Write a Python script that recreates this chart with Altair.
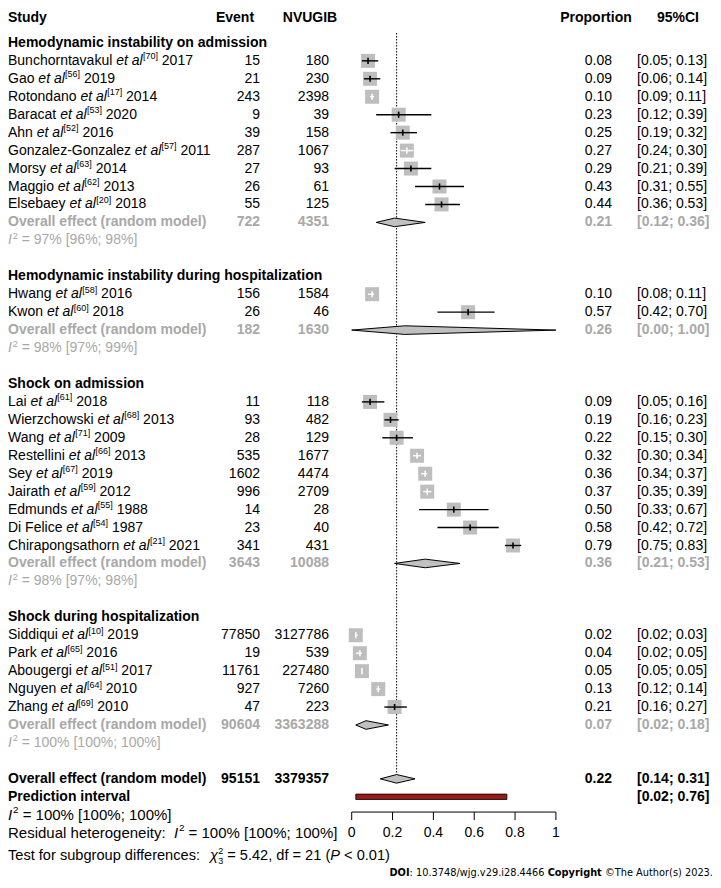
import altair as alt
import pandas as pd

# ---------------- data ----------------
group_titles = ["Hemodynamic instability on admission",
                "Hemodynamic instability during hospitalization",
                "Shock on admission",
                "Shock during hospitalization"]
study_group = [0] * 9 + [1] * 2 + [2] * 9 + [3] * 5
study_names = ["Bunchorntavakul", "Gao", "Rotondano", "Baracat", "Ahn", "Gonzalez-Gonzalez",
               "Morsy", "Maggio", "Elsebaey",
               "Hwang", "Kwon",
               "Lai", "Wierzchowski", "Wang", "Restellini", "Sey", "Jairath", "Edmunds",
               "Di Felice", "Chirapongsathorn",
               "Siddiqui", "Park", "Abougergi", "Nguyen", "Zhang"]
study_refs = ["70", "56", "17", "53", "52", "57", "63", "62", "20",
              "58", "60",
              "61", "68", "71", "66", "67", "59", "55", "54", "21",
              "10", "65", "51", "64", "69"]
study_years = ["2017", "2019", "2014", "2020", "2016", "2011", "2014", "2013", "2018",
               "2016", "2018",
               "2018", "2013", "2009", "2013", "2019", "2012", "1988", "1987", "2021",
               "2019", "2016", "2017", "2010", "2010"]
events = [15, 21, 243, 9, 39, 287, 27, 26, 55,
          156, 26,
          11, 93, 28, 535, 1602, 996, 14, 23, 341,
          77850, 19, 11761, 927, 47]
totals = [180, 230, 2398, 39, 158, 1067, 93, 61, 125,
          1584, 46,
          118, 482, 129, 1677, 4474, 2709, 28, 40, 431,
          3127786, 539, 227480, 7260, 223]
props = [0.08, 0.09, 0.10, 0.23, 0.25, 0.27, 0.29, 0.43, 0.44,
         0.10, 0.57,
         0.09, 0.19, 0.22, 0.32, 0.36, 0.37, 0.50, 0.58, 0.79,
         0.02, 0.04, 0.05, 0.13, 0.21]
ci_lo = [0.05, 0.06, 0.09, 0.12, 0.19, 0.24, 0.21, 0.31, 0.36,
         0.08, 0.42,
         0.05, 0.16, 0.15, 0.30, 0.34, 0.35, 0.33, 0.42, 0.75,
         0.02, 0.02, 0.05, 0.12, 0.16]
ci_hi = [0.13, 0.14, 0.11, 0.39, 0.32, 0.30, 0.39, 0.55, 0.53,
         0.11, 0.70,
         0.16, 0.23, 0.30, 0.34, 0.37, 0.39, 0.67, 0.72, 0.83,
         0.03, 0.05, 0.05, 0.14, 0.27]

sum_event = [722, 182, 3643, 90604]
sum_total = [4351, 1630, 10088, 3363288]
sum_prop = [0.21, 0.26, 0.36, 0.07]
sum_lo = [0.12, 0.00, 0.21, 0.02]
sum_hi = [0.36, 1.00, 0.53, 0.18]
sum_i2 = ["97% [96%; 98%]", "98% [97%; 99%]", "98% [97%; 98%]", "100% [100%; 100%]"]

overall_event = 95151
overall_total = 3379357
overall_prop = 0.22
overall_lo = 0.14
overall_hi = 0.31
pred_lo = 0.02
pred_hi = 0.76
overall_i2 = "100% [100%; 100%]"
resid_i2 = "100% [100%; 100%]"
test_chi = "5.42"
test_df = "21"
test_p = "0.01"

axis_ticks = [0, 0.2, 0.4, 0.6, 0.8, 1]
axis_labels = ["0", "0.2", "0.4", "0.6", "0.8", "1"]

# ---------------- layout / style ----------------
FONT = "Liberation Sans"
DVFONT = "DejaVu Sans"
GRAY = "#A8A8A8"
SQ = "#BEBEBE"
DIA = "#C0C0C0"
PRED = "#9A1A1A"

W, H = 705, 870
P0, PS = 343.7, 204.2          # pixel of proportion 0 and pixels per unit
Y0, DY = -1.0, 17.95           # pixel of row 0 and pixels per row

EV_R, NV_R = 252, 321
EV_HC, NV_HC = 227, 302
PR_R, PR_HC = 604, 588
CI_L, CI_HC = 629, 670
DOI_R = 705

XS = alt.Scale(domain=[0, 1], range=[P0, P0 + PS])
YS = alt.Scale(domain=[0, 1], range=[Y0, Y0 + DY])

AR = {' ': 278, '!': 278, '(': 333, ')': 333, ',': 278, '-': 333, '.': 278, '/': 278,
      ':': 278, ';': 278, '<': 584, '=': 584, '[': 278, ']': 278, '%': 889,
      'A': 667, 'B': 667, 'C': 722, 'D': 722, 'E': 667, 'F': 611, 'G': 778, 'H': 722,
      'I': 278, 'J': 500, 'K': 667, 'L': 556, 'M': 833, 'N': 722, 'O': 778, 'P': 667,
      'Q': 778, 'R': 722, 'S': 667, 'T': 611, 'U': 722, 'V': 667, 'W': 944, 'X': 667,
      'Y': 667, 'Z': 611,
      'a': 556, 'b': 556, 'c': 500, 'd': 556, 'e': 556, 'f': 278, 'g': 556, 'h': 556,
      'i': 222, 'j': 222, 'k': 500, 'l': 222, 'm': 833, 'n': 556, 'o': 556, 'p': 556,
      'q': 556, 'r': 333, 's': 500, 't': 278, 'u': 556, 'v': 500, 'w': 722, 'x': 500,
      'y': 500, 'z': 500, 'χ': 500}
DV = {' ': 318, '.': 318, ',': 318, ':': 337, '/': 337, '(': 390, ')': 390, '©': 1000,
      'A': 684, 'T': 611, 'C': 698, 'D': 770, 'O': 787, 'I': 295,
      'a': 613, 'e': 615, 'g': 635, 'h': 634, 'i': 278, 'j': 278, 'o': 612, 'p': 635,
      'r': 411, 's': 521, 't': 392, 'u': 634, 'v': 592, 'w': 818, 'y': 592}
DVB = {'D': 830, 'O': 850, 'I': 372, 'C': 734, 'o': 687, 'p': 716, 'y': 652, 'r': 493,
       'i': 343, 'g': 716, 'h': 712, 't': 478}


def table_for(kind):
    return DVB if kind == "DVB" else (DV if kind == "DV" else AR)


def tw(s, size=14, table=AR):
    dflt = 556 if table is AR else 636
    return sum(table.get(c, dflt) for c in s) * size / 1000.0


runs = []


def add(row, px, text, kind, color="black", size=14):
    # SVG drops leading/trailing blanks, so turn leading blanks into an x offset
    lead = len(text) - len(text.lstrip(" "))
    if lead and kind not in ("R", "RB", "C", "CB"):
        px += tw(" " * lead, size, table_for(kind))
    runs.append(dict(row=row, xp=(px - P0) / PS, text=text.strip(" "), kind=kind,
                     color=color, size=size))


# rows
study_rows, heading_rows, sum_rows, i2_rows = [], [], [], []
r = 2
for g in range(len(group_titles)):
    heading_rows.append(r)
    r += 1
    for sg in study_group:
        if sg == g:
            study_rows.append(r)
            r += 1
    sum_rows.append(r)
    i2_rows.append(r + 1)
    r += 3
ROW_HEADER = 0.6
ROW_OVERALL = r
ROW_PRED = r + 1
ROW_I2 = r + 2
ROW_RESID = r + 3
ROW_TEST = r + 4.3
ROW_DOI = r + 5.25
ROW_AXIS = r + 1.85

# header
add(ROW_HEADER, 0, "Study", "LB")
add(ROW_HEADER, EV_HC, "Event", "CB")
add(ROW_HEADER, NV_HC, "NVUGIB", "CB")
add(ROW_HEADER, PR_HC, "Proportion", "CB")
add(ROW_HEADER, CI_HC, "95%CI", "CB")

for g, t in enumerate(group_titles):
    add(heading_rows[g], 0, t, "LB")

for i, rw in enumerate(study_rows):
    x1 = tw(study_names[i] + " ")
    add(rw, 0, study_names[i], "L")
    add(rw, x1, "et al", "LI")
    x2 = x1 + tw("et al") + 0.3
    sup = "[" + study_refs[i] + "]"
    add(rw, x2, sup, "SUP", size=9)
    add(rw, x2 + tw(sup, 9) + tw(" "), study_years[i], "L")
    add(rw, EV_R, str(events[i]), "R")
    add(rw, NV_R, str(totals[i]), "R")
    add(rw, PR_R, f"{props[i]:.2f}", "R")
    add(rw, CI_L, f"[{ci_lo[i]:.2f}; {ci_hi[i]:.2f}]", "L")


def i2_line(rw, x0, txt, color, size=14):
    ssz = round(size * 0.66, 1)
    add(rw, x0, "I", "LI", color, size)
    xs = x0 + tw("I", size) + 0.8
    add(rw, xs, "2", "SUP", color, ssz)
    add(rw, xs + tw("2", ssz), " = " + txt, "L", color, size)


for g, rw in enumerate(sum_rows):
    add(rw, 0, "Overall effect (random model)", "LB", GRAY)
    add(rw, EV_R, str(sum_event[g]), "RB", GRAY)
    add(rw, NV_R, str(sum_total[g]), "RB", GRAY)
    add(rw, PR_R, f"{sum_prop[g]:.2f}", "RB", GRAY)
    add(rw, CI_L, f"[{sum_lo[g]:.2f}; {sum_hi[g]:.2f}]", "LB", GRAY)
    i2_line(i2_rows[g], 0, sum_i2[g], GRAY)

add(ROW_OVERALL, 0, "Overall effect (random model)", "LB")
add(ROW_OVERALL, EV_R, str(overall_event), "RB")
add(ROW_OVERALL, NV_R, str(overall_total), "RB")
add(ROW_OVERALL, PR_R, f"{overall_prop:.2f}", "RB")
add(ROW_OVERALL, CI_L, f"[{overall_lo:.2f}; {overall_hi:.2f}]", "LB")
add(ROW_PRED, 0, "Prediction interval", "LB")
add(ROW_PRED, CI_L, f"[{pred_lo:.2f}; {pred_hi:.2f}]", "LB")

BS = 15  # bottom statistics font size
i2_line(ROW_I2, 0, overall_i2, "black", BS)
lab = "Residual heterogeneity:"
add(ROW_RESID, 0, lab, "L", size=BS)
i2_line(ROW_RESID, tw(lab, BS) + 2 * tw(" ", BS), resid_i2, "black", BS)

TS = 14.6
lab = "Test for subgroup differences:"
add(ROW_TEST, 0, lab, "L", size=TS)
xc = tw(lab, TS) + 2 * tw(" ", TS)
add(ROW_TEST, xc, "χ", "LI", size=TS)
xs = xc + tw("χ", TS) + 0.8
add(ROW_TEST, xs, "2", "SUP2", size=9)
add(ROW_TEST, xs, "3", "SUB", size=9)
seg = f" = {test_chi}, df = {test_df} ("
xt = xs + tw("2", 9)
add(ROW_TEST, xt, seg, "L", size=TS)
xt += tw(seg, TS)
add(ROW_TEST, xt, "P", "LI", size=TS)
add(ROW_TEST, xt + tw("P", TS), f" < {test_p})", "L", size=TS)

for v, lbl in zip(axis_ticks, axis_labels):
    add(ROW_RESID, P0 + PS * v, lbl, "C")

DOI_SIZE = 9.8
doi_runs = [("DOI", "DVB"), (": 10.3748/wjg.v29.i28.4466 ", "DV"), ("Copyright", "DVB"),
            (" ©The Author(s) 2023.", "DV")]
total = sum(tw(t, DOI_SIZE, table_for(k)) for t, k in doi_runs)
xd = DOI_R - total
for t, k in doi_runs:
    add(ROW_DOI, xd, t, k, size=DOI_SIZE)
    xd += tw(t, DOI_SIZE, table_for(k))

df_runs = pd.DataFrame(runs)

TEXT_STYLES = {
    "L": dict(align="left", fontWeight="normal", fontStyle="normal", dy=0, font=FONT),
    "LI": dict(align="left", fontWeight="normal", fontStyle="italic", dy=0, font=FONT),
    "LB": dict(align="left", fontWeight="bold", fontStyle="normal", dy=0, font=FONT),
    "R": dict(align="right", fontWeight="normal", fontStyle="normal", dy=0, font=FONT),
    "RB": dict(align="right", fontWeight="bold", fontStyle="normal", dy=0, font=FONT),
    "C": dict(align="center", fontWeight="normal", fontStyle="normal", dy=0, font=FONT),
    "CB": dict(align="center", fontWeight="bold", fontStyle="normal", dy=0, font=FONT),
    "SUP": dict(align="left", fontWeight="normal", fontStyle="normal", dy=-4.5, font=FONT),
    "SUP2": dict(align="left", fontWeight="normal", fontStyle="normal", dy=-5.5, font=FONT),
    "SUB": dict(align="left", fontWeight="normal", fontStyle="normal", dy=5, font=FONT),
    "DV": dict(align="left", fontWeight="normal", fontStyle="normal", dy=0, font=DVFONT),
    "DVB": dict(align="left", fontWeight="bold", fontStyle="normal", dy=0, font=DVFONT),
}

layers = []

# reference dotted line
df_ref = pd.DataFrame(dict(p=[overall_prop], y1=[1.45], y2=[ROW_OVERALL - 0.25]))
layers.append(alt.Chart(df_ref).mark_rule(color="black", strokeWidth=1, strokeDash=[1.5, 1.5]).encode(
    x=alt.X("p:Q", scale=XS, axis=None),
    y=alt.Y("y1:Q", scale=YS, axis=None),
    y2="y2:Q"))

# study squares + CIs
SQ_SIDE = 14
df_st = pd.DataFrame(dict(row=study_rows, p=props, lo=ci_lo, hi=ci_hi))
df_st["cicol"] = ["white" if (h - l) * PS < SQ_SIDE else "black" for l, h in zip(ci_lo, ci_hi)]

layers.append(alt.Chart(df_st).mark_square(size=SQ_SIDE ** 2, color=SQ, opacity=1).encode(
    x=alt.X("p:Q", scale=XS, axis=None),
    y=alt.Y("row:Q", scale=YS, axis=None)))
layers.append(alt.Chart(df_st).mark_rule(strokeWidth=1.4).encode(
    x=alt.X("lo:Q", scale=XS, axis=None), x2="hi:Q",
    y=alt.Y("row:Q", scale=YS, axis=None),
    color=alt.Color("cicol:N", scale=None)))
layers.append(alt.Chart(df_st).transform_calculate(
    t0="datum.row - 0.17", t1="datum.row + 0.17").mark_rule(strokeWidth=1.6).encode(
    x=alt.X("p:Q", scale=XS, axis=None),
    y=alt.Y("t0:Q", scale=YS, axis=None), y2="t1:Q",
    color=alt.Color("cicol:N", scale=None)))

# diamonds: fill (vertical band) + closed outline
DH = 0.24
band, outline = [], []
for i, (e, l, h, rw) in enumerate(zip(sum_prop + [overall_prop], sum_lo + [overall_lo],
                                       sum_hi + [overall_hi], sum_rows + [ROW_OVERALL])):
    for pp, hh in [(l, 0.0), (e, DH), (h, 0.0)]:
        band.append(dict(id=i, p=pp, ylo=rw - hh, yhi=rw + hh))
    for k, (pp, yy) in enumerate([(l, rw), (e, rw - DH), (h, rw), (e, rw + DH), (l, rw)]):
        outline.append(dict(id=i, k=k, p=pp, y=yy))
df_band = pd.DataFrame(band)
df_out = pd.DataFrame(outline)
layers.append(alt.Chart(df_band).mark_area(color=DIA, opacity=1, orient="vertical").encode(
    x=alt.X("p:Q", scale=XS, axis=None),
    y=alt.Y("ylo:Q", scale=YS, axis=None), y2="yhi:Q",
    detail="id:N"))
layers.append(alt.Chart(df_out).mark_line(color="black", strokeWidth=1).encode(
    x=alt.X("p:Q", scale=XS, axis=None),
    y=alt.Y("y:Q", scale=YS, axis=None),
    detail="id:N", order="k:Q"))

# prediction interval
df_pred = pd.DataFrame(dict(lo=[pred_lo], hi=[pred_hi], y1=[ROW_PRED - 0.15], y2=[ROW_PRED + 0.15]))
layers.append(alt.Chart(df_pred).mark_rect(color=PRED, stroke="black", strokeWidth=0.8).encode(
    x=alt.X("lo:Q", scale=XS, axis=None), x2="hi:Q",
    y=alt.Y("y1:Q", scale=YS, axis=None), y2="y2:Q"))

# axis
df_ax = pd.DataFrame(dict(lo=[axis_ticks[0]], hi=[axis_ticks[-1]], y=[ROW_AXIS]))
layers.append(alt.Chart(df_ax).mark_rule(color="black", strokeWidth=1).encode(
    x=alt.X("lo:Q", scale=XS, axis=None), x2="hi:Q",
    y=alt.Y("y:Q", scale=YS, axis=None)))
df_tk = pd.DataFrame(dict(p=axis_ticks, y1=[ROW_AXIS] * len(axis_ticks),
                          y2=[ROW_AXIS + 0.45] * len(axis_ticks)))
layers.append(alt.Chart(df_tk).mark_rule(color="black", strokeWidth=1).encode(
    x=alt.X("p:Q", scale=XS, axis=None),
    y=alt.Y("y1:Q", scale=YS, axis=None), y2="y2:Q"))

# text
for kind, st in TEXT_STYLES.items():
    sub = df_runs[df_runs["kind"] == kind]
    if len(sub) == 0:
        continue
    layers.append(alt.Chart(sub).mark_text(baseline="middle", **st).encode(
        x=alt.X("xp:Q", scale=XS, axis=None),
        y=alt.Y("row:Q", scale=YS, axis=None),
        text="text:N",
        color=alt.Color("color:N", scale=None),
        size=alt.Size("size:Q", scale=None)))

chart = alt.layer(*layers).properties(
    width=W, height=H, padding=0,
    autosize=alt.AutoSizeParams(type="none"),
    background="white",
).configure_view(strokeWidth=0)

chart.save("out.html", embed_options={"renderer": "svg", "actions": False})
